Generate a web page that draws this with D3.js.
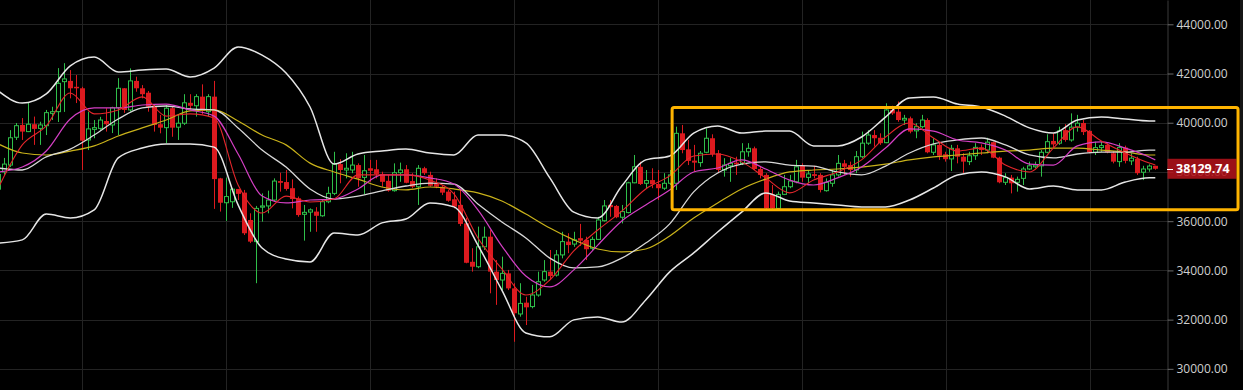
<!DOCTYPE html>
<html>
<head>
<meta charset="utf-8">
<script src="https://cdn.jsdelivr.net/npm/d3@7/dist/d3.min.js"></script>
<style>
  body { margin: 0; background: #000; }
  svg { display: block; }
</style>
</head>
<body>
<div id="chart"></div>
<script>
// Daily candles, oldest first
var opens = [37300,38000,38280,39410,39910,39640,39940,39770,39880,40380,
  40450,41670,41700,41460,41400,39300,39730,39770,40070,39910,
  40610,41400,40520,41700,41400,41220,40650,39940,39800,40590,
  39820,39980,40810,40690,41060,40450,41060,37740,36750,36790,
  37310,37160,36050,35170,36570,36620,36860,37630,37590,37340,
  36930,36280,36370,36390,36220,36790,37130,38320,38080,38080,
  38280,37780,38150,38110,37920,37640,37240,37970,38110,37630,
  37400,38150,37880,37540,37400,37200,36890,36660,35910,34350,
  34150,34960,35370,33950,33610,33880,33270,32230,32690,32530,
  33000,33610,33950,33810,34630,35170,35070,35310,35240,34900,
  35260,36020,36660,36620,36160,36350,37560,38210,37540,37670,
  37510,37340,37540,37540,39570,38920,38460,38380,38800,39370,
  38760,38080,38250,38380,38350,38820,38960,38120,37880,37090,
  36520,37090,37400,37600,38250,37780,37910,37880,37240,37540,
  37880,38350,38280,38080,38620,39170,39500,39390,39190,40520,
  40450,40110,40180,39670,39840,40110,38800,39100,38720,38530,
  38960,38620,38420,38660,39000,38890,39210,38580,37580,37770,
  37580,37740,38120,38210,38250,38800,39260,39170,39700,39300,
  39820,39990,39670,38800,38990,39100,38760,38420,38990,38450,
  38530,37990,38120,38250];
var highs = [38050,38570,39700,39990,40190,40800,40250,40040,40520,40650,
  42220,42420,42140,41940,41460,40450,40110,40240,40590,40650,
  41810,41410,42210,41870,41530,41290,40720,40320,40720,40650,
  40320,41160,41160,41160,41560,41160,41700,37760,37770,37350,
  37310,37270,36320,36620,37130,37240,37740,37970,38080,37700,
  37000,36660,36520,36570,36860,37400,38820,38520,38760,38820,
  38350,38690,38490,38490,38010,37880,38350,38380,38280,37950,
  38280,38210,38010,37740,37470,37270,37200,37270,36130,34900,
  35780,35780,35640,34420,34560,34020,33480,33480,32930,33410,
  33950,34420,34830,34830,35570,35510,35570,35890,35370,35370,
  36180,36860,36860,36660,36660,37600,38690,38420,38080,38150,
  38080,37950,38080,39840,39910,39300,39100,38850,39770,39530,
  38890,38560,38580,38620,39170,39170,39030,38210,37950,37470,
  37200,37880,37880,38490,38350,38080,38250,37950,37740,38080,
  38690,38490,38420,38850,39640,39700,39700,39570,40790,40690,
  40860,40320,40250,39980,40320,40180,39370,39230,38820,39100,
  39100,38760,38820,39170,39120,39390,39230,38620,37950,37880,
  37810,38210,38420,38420,38890,39530,39570,39840,39940,40380,
  40320,40110,39700,39230,39230,39170,38850,39170,39070,38760,
  38620,38250,38310,38250];
var lows = [37050,37880,38200,39300,39300,39620,39100,39100,39500,40110,
  40030,40440,40990,40800,38080,38890,39370,39710,39640,39580,
  39500,40400,40450,41260,40990,40450,39640,39570,39170,39430,
  39300,39910,40520,40250,40340,40250,36500,36390,36010,36540,
  36860,35440,35110,33480,35980,36320,36790,37200,37240,36520,
  36180,35210,35570,35570,36180,36730,37060,37540,37740,37950,
  37400,37100,37600,37740,37400,37200,37200,37600,37540,37340,
  36660,37880,37400,37340,37060,36790,36520,35800,34290,33950,
  34090,34830,33070,32600,33200,33200,31100,32120,31780,32460,
  32930,33540,33610,33750,34490,34700,34960,34990,34420,34830,
  35240,35980,36180,36120,35910,36320,37540,37470,37340,37340,
  36860,37270,37470,37270,38760,38280,38010,38210,38760,38620,
  37950,37810,37600,37880,38280,38620,38080,37740,36460,36460,
  36460,37060,37340,37540,37600,37540,37740,37170,37200,37400,
  37810,37880,37810,37950,38560,39100,39030,39100,39170,40320,
  40040,39910,39570,39370,39770,38760,38690,38490,38420,38040,
  38350,37950,38280,38490,38690,38760,38560,37540,37470,37130,
  37200,37470,38080,38150,37810,38760,38960,39100,39230,39230,
  39640,39500,38760,38690,38820,38760,38350,38210,38350,38280,
  37880,37670,38010,38090];
var closes = [37900,38320,39390,39880,39640,39940,39750,39910,40410,40450,
  41600,41780,41400,41400,39270,39750,39800,40110,39940,40610,
  41400,40520,41700,41400,41160,40650,39910,39800,40590,39800,
  39980,40810,40690,41060,40480,41060,37710,36750,37000,37300,
  37110,35510,35170,36520,36620,36860,37630,37560,37310,36900,
  36250,36360,36460,36220,36790,37130,38320,38080,38150,38280,
  37740,38050,38050,37920,37600,37240,37970,38080,37560,37400,
  38150,37950,37440,37400,37160,36830,36590,35890,34310,34150,
  34960,35350,33950,33610,33880,33270,32260,32660,32500,33000,
  33540,33950,33770,34630,35170,35030,35240,35210,34860,35260,
  36050,36620,36570,36160,36390,37560,38210,37510,37650,37500,
  37340,37540,37880,39570,38890,38450,38380,38760,39370,38730,
  38080,38280,38350,38310,38820,38960,38120,37880,36520,36520,
  37090,37400,37630,38210,37770,37920,37840,37270,37580,37880,
  38350,38210,38080,38620,39170,39500,39370,39170,40520,40380,
  40110,40180,39640,39840,40110,38800,39100,38660,38520,38960,
  38620,38420,38660,39000,38890,39210,38580,37580,37770,37540,
  37700,38120,38250,38280,38800,39230,39120,39670,39300,39820,
  39980,39620,38800,38990,39070,38800,38420,38990,38450,38560,
  37950,38120,38240,38129.74];

// Indicator lines, read at every 4th candle (last point = last candle)
var upperBand = [41290,40800,41170,42310,42670,42060,42140,42180,41860,42220,
  43080,42750,42020,40640,38320,38730,38850,38930,38770,38690,
  39500,39500,39180,37760,36370,36130,37430,38490,38650,39580,
  39870,39580,39660,39660,39060,39060,39420,40230,41010,41050,
  40760,40640,40270,39790,39580,40110,40230,40150,40070,40070];
var midBand = [38160,38080,38610,38930,39500,40150,40600,40680,40560,40520,
  39790,38890,38200,37310,36900,37020,37230,37430,37550,37510,
  36700,35970,35320,34500,34100,34140,34500,35110,35890,37190,
  37960,38320,38410,38280,38240,38000,37880,38240,38770,39140,
  39300,39380,39100,38690,38570,38730,38810,38810,38890,38890];
var lowerBand = [35110,35240,36290,36130,36460,38570,38970,39140,39140,39010,
  36660,34910,34460,34340,35520,35440,35930,36090,36740,36580,
  35030,33200,31460,31300,31990,32110,31900,32800,33940,34710,
  35560,36370,37150,36820,36740,36660,36580,36580,36860,37350,
  37880,38000,37800,37310,37430,37270,37270,37590,37760,37760];
var maFast = [37350,39100,39870,41210,40360,40520,41050,40270,40360,40190,
  37470,36330,37020,36780,36900,37880,37880,37880,37670,37110,
  35320,34060,33000,33610,34790,35640,36410,37310,37840,38650,
  38730,38410,37760,37150,37670,38000,38490,39420,39990,39380,
  38850,38970,38280,38000,38970,39830,39260,38770,38360,38280];
var maMid = [38000,38200,38850,40150,40600,40600,40720,40760,40520,40270,
  38730,37020,36740,36860,36900,37310,37880,37880,37760,37510,
  36460,34990,33770,33330,34020,35030,36010,36660,37270,38000,
  38160,38490,38120,37670,37470,37760,38200,38970,39750,39660,
  39300,39180,38890,38320,38280,39060,39220,38970,38610,38490];
var maSlow = [39140,38770,38690,38850,39060,39460,39790,40110,40480,40520,
  40070,39500,39100,38360,38000,37710,37390,37270,37390,37310,
  37150,36820,36290,35720,35240,34870,34750,34870,35400,36130,
  36740,37310,37710,38000,38080,38120,38200,38320,38490,38610,
  38690,38770,38850,38890,38970,38970,38890,38810,38690,38690];

var priceTicks = [30000,32000,34000,36000,38000,40000,42000,44000];
var lastPrice = 38129.74;
// highlighted range: candle index span and price span
var zone = {from: 112.4, to: 206.8, top: 40620, bottom: 36460};

var width = 1243, height = 390,
    plotRight = 1167;

var n = opens.length;
var x = d3.scaleLinear().domain([0, n - 1]).range([-1.7, 1155.3]);
var y = d3.scaleLinear().domain([29141, 44987]).range([height, 0]);

var svg = d3.select("#chart").append("svg")
    .attr("width", width)
    .attr("height", height)
    .style("background", "#000");

svg.append("clipPath").attr("id", "plot")
  .append("rect").attr("width", plotRight).attr("height", height);

// Grid
var grid = svg.append("g").attr("stroke", "#232323").attr("stroke-width", 1);
grid.selectAll(".hgrid")
    .data(priceTicks)
    .enter()
  .append("line")
    .attr("x1", 0).attr("x2", plotRight)
    .attr("y1", function(d) { return Math.round(y(d)) + 0.5; })
    .attr("y2", function(d) { return Math.round(y(d)) + 0.5; });
grid.selectAll(".vgrid")
    .data(d3.range(8).map(function(k) { return 13.91 + 24.03 * k; }))
    .enter()
  .append("line")
    .attr("y1", 0).attr("y2", height)
    .attr("x1", function(d) { return Math.round(x(d)) + 0.5; })
    .attr("x2", function(d) { return Math.round(x(d)) + 0.5; });

// Candles
var candles = d3.range(n).map(function(i) {
  return {i: i, o: opens[i], h: highs[i], l: lows[i], c: closes[i], up: closes[i] >= opens[i]};
});
var red = "#dc1a1f", green = "#2fbf4a";
var plot = svg.append("g").attr("clip-path", "url(#plot)");

plot.selectAll(".wick")
    .data(candles)
    .enter()
  .append("line")
    .attr("x1", function(d) { return Math.round(x(d.i)) + 0.5; })
    .attr("x2", function(d) { return Math.round(x(d.i)) + 0.5; })
    .attr("y1", function(d) { return y(d.h); })
    .attr("y2", function(d) { return y(d.l); })
    .attr("stroke", function(d) { return d.up ? green : red; })
    .attr("stroke-width", 1);

plot.selectAll(".body")
    .data(candles)
    .enter()
  .append("rect")
    .attr("x", function(d) { return d.up ? Math.round(x(d.i)) - 1.5 : Math.round(x(d.i)) - 2; })
    .attr("width", function(d) { return d.up ? 4 : 5; })
    .attr("y", function(d) { return y(Math.max(d.o, d.c)); })
    .attr("height", function(d) { return Math.max(1, Math.abs(y(d.o) - y(d.c))); })
    .attr("fill", function(d) { return d.up ? "#000" : red; })
    .attr("stroke", function(d) { return d.up ? green : "none"; })
    .attr("stroke-width", 1);

// Indicator lines
var lineIdx = d3.range(upperBand.length).map(function(k) { return Math.min(k * 4, n - 1); });
var line = d3.line()
    .x(function(d) { return x(d[0]); })
    .y(function(d) { return y(d[1]); })
    .curve(d3.curveMonotoneX);
function series(values) {
  return values.map(function(v, k) { return [lineIdx[k], v]; });
}
var lines = [
  {values: maSlow, color: "#c9b21a", w: 1.2},
  {values: upperBand, color: "#e6e6e6", w: 1.5},
  {values: midBand, color: "#d8d8d8", w: 1.3},
  {values: lowerBand, color: "#e6e6e6", w: 1.5},
  {values: maMid, color: "#d43fc4", w: 1.2},
  {values: maFast, color: "#e3262b", w: 1.1}
];
plot.selectAll(".ind")
    .data(lines)
    .enter()
  .append("path")
    .attr("d", function(d) { return line(series(d.values)); })
    .attr("fill", "none")
    .attr("stroke", function(d) { return d.color; })
    .attr("stroke-width", function(d) { return d.w; });

// Right price axis
var axis = d3.axisRight(y)
    .tickValues(priceTicks)
    .tickFormat(d3.format(".2f"))
    .tickSize(6)
    .tickSizeOuter(0)
    .tickPadding(3);
var ax = svg.append("g")
    .attr("transform", "translate(" + (plotRight + 0.5) + ",0)")
    .call(axis);
ax.select(".domain").attr("stroke", "#3a3a3a");
ax.selectAll(".tick line").attr("stroke", "#6a6a6a");
ax.selectAll(".tick text")
    .attr("fill", "#cfcfcf")
    .style("font-family", "'Open Sans', sans-serif")
    .style("font-size", "12px");

// scrollbar strip at the far right
svg.append("rect")
    .attr("x", 1240).attr("y", 0)
    .attr("width", 3).attr("height", 350)
    .attr("fill", "#151515");

// Last price label
var py = y(lastPrice);
svg.append("rect")
    .attr("x", plotRight + 0.5).attr("y", py - 10)
    .attr("width", 69).attr("height", 20)
    .attr("fill", "#b0121a")
    .attr("fill-opacity", 0.88);
svg.append("line")
    .attr("x1", plotRight).attr("x2", plotRight + 6)
    .attr("y1", Math.round(py) + 0.5).attr("y2", Math.round(py) + 0.5)
    .attr("stroke", "#fff");
svg.append("text")
    .attr("x", plotRight + 9).attr("y", py)
    .attr("dy", "0.35em")
    .attr("fill", "#fff")
    .style("font-family", "'Open Sans', sans-serif")
    .style("font-size", "12.5px")
    .style("font-weight", "bold")
    .text(d3.format(".2f")(lastPrice));

// Highlight box
svg.append("rect")
    .attr("x", x(zone.from)).attr("y", y(zone.top))
    .attr("width", x(zone.to) - x(zone.from))
    .attr("height", y(zone.bottom) - y(zone.top))
    .attr("rx", 2)
    .attr("fill", "none")
    .attr("stroke", "#ffb400")
    .attr("stroke-width", 3);
</script>
</body>
</html>
